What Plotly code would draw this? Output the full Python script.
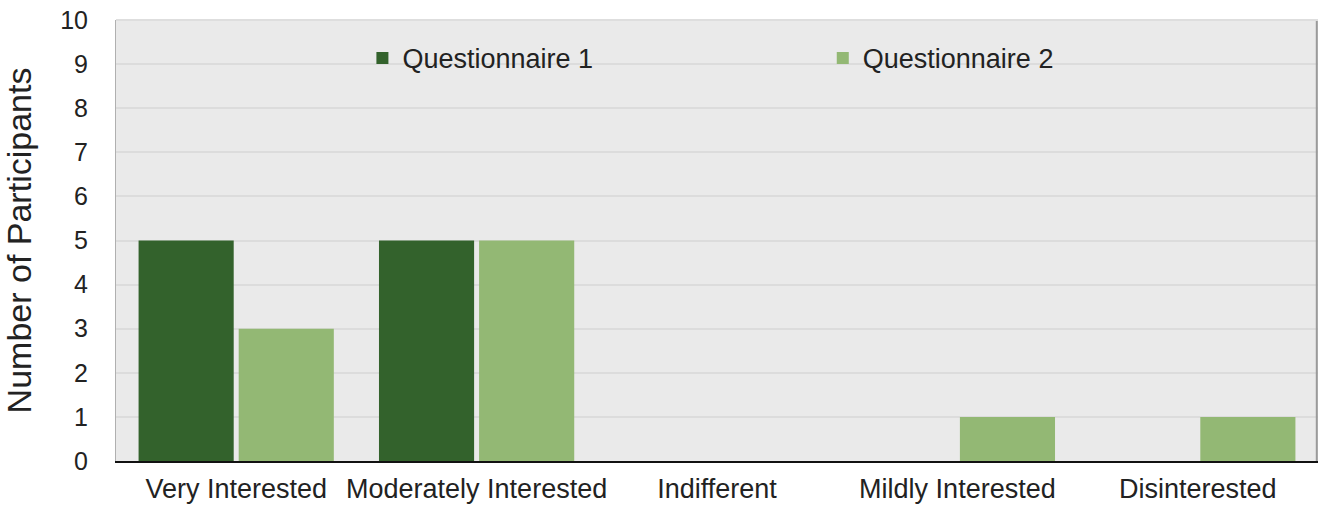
import plotly.graph_objects as go

categories = ["Very Interested", "Moderately Interested", "Indifferent", "Mildly Interested", "Disinterested"]
q1_values = [5, 5, 0, 0, 0]
q2_values = [3, 5, 0, 1, 1]
y_ticks = list(range(0, 11))

fig = go.Figure()
fig.add_trace(go.Bar(x=categories, y=q1_values, name="Questionnaire 1", marker_color="#33622c",
                     marker_line_width=0, legend="legend", showlegend=True))
fig.add_trace(go.Bar(x=categories, y=q2_values, name="Questionnaire 2", marker_color="#93b874",
                     marker_line_width=0, legend="legend2", showlegend=True))

fam = "Liberation Sans, Arial, sans-serif"
txt = "#222222"
leg_common = dict(y=0.913, xanchor="left", yanchor="middle", bgcolor="rgba(0,0,0,0)",
                  font=dict(family=fam, size=27, color=txt))
fig.update_layout(
    width=1323, height=506,
    margin=dict(l=116, r=5, t=20, b=45, autoexpand=False),
    paper_bgcolor="white", plot_bgcolor="#eaeaea",
    barmode="group", bargap=0.167, bargroupgap=0.05,
    font=dict(family=fam, size=27, color=txt),
    showlegend=True,
    legend=dict(x=0.205, **leg_common),
    legend2=dict(x=0.588, **leg_common),
    xaxis=dict(showline=True, linecolor="#111111", linewidth=2, ticks="", showgrid=False,
               automargin=False, ticklabelstandoff=3, tickfont=dict(size=27)),
    yaxis=dict(range=[0, 10], tickvals=y_ticks, showgrid=True, gridcolor="#dcdcdc", gridwidth=1.5,
               ticks="", showline=True, linecolor="#b0b0b0", zeroline=False, automargin=False,
               ticklabelstandoff=22,
               title=dict(text="Number of Participants", font=dict(size=34), standoff=22),
               tickfont=dict(size=25)),
)
fig.add_shape(type="line", xref="paper", yref="paper", x0=0.999, x1=0.999, y0=0, y1=1,
              line=dict(color="#9a9a9a", width=2), layer="above")
fig.add_shape(type="line", xref="paper", yref="paper", x0=0, x1=1, y0=1, y1=1,
              line=dict(color="#dedede", width=2))
fig.write_html("out.html", config={"displayModeBar": False},
               post_script="document.body.style.margin='0';")
